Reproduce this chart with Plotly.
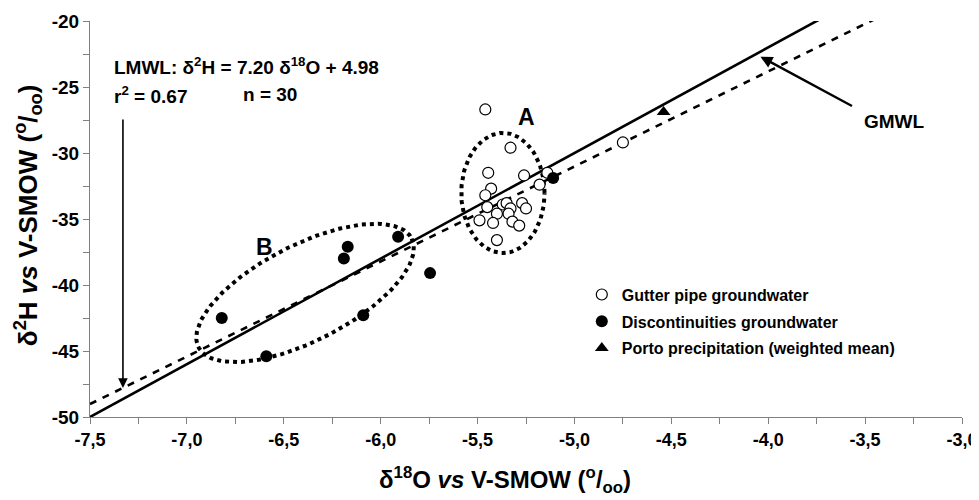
import numpy as np
import plotly.graph_objects as go

# Gutter pipe groundwater (open circles)
gutter_o18 = [-5.46, -5.33, -5.445, -5.26, -5.43, -5.46, -5.18, -5.45, -5.37, -5.35, -5.33,
              -5.27, -5.25, -5.40, -5.34, -5.49, -5.42, -5.32, -5.285, -5.40, -5.14, -4.75]
gutter_h2 = [-26.7, -29.6, -31.5, -31.7, -32.7, -33.2, -32.4, -34.1, -33.9, -33.8, -34.2,
             -33.8, -34.2, -34.6, -34.6, -35.1, -35.3, -35.2, -35.5, -36.6, -31.5, -29.2]

# Discontinuities groundwater (filled circles)
disc_o18 = [-6.82, -6.59, -6.19, -6.17, -5.91, -6.09, -5.745, -5.11]
disc_h2 = [-42.5, -45.4, -38.0, -37.1, -36.35, -42.3, -39.1, -31.9]

# Porto precipitation (weighted mean)
porto_o18 = [-4.54]
porto_h2 = [-26.9]

# meteoric water lines (end points)
gmwl_x = [-7.5, -3.0]
gmwl_y = [-50.0, -14.0]
lmwl_x = [-7.5, -3.0]
lmwl_y = [-49.02, -16.62]

# tick labels (decimal comma, plain hyphen)
x_ticks = [-7.5, -7.0, -6.5, -6.0, -5.5, -5.0, -4.5, -4.0, -3.5, -3.0]
x_labels = ["-7,5", "-7,0", "-6,5", "-6,0", "-5,5", "-5,0", "-4,5", "-4,0", "-3,5", "-3,0"]
y_ticks = [-50, -45, -40, -35, -30, -25, -20]
y_labels = ["-50", "-45", "-40", "-35", "-30", "-25", "-20"]

bold = "Liberation Sans, Arial, sans-serif"

fig = go.Figure()

fig.add_trace(go.Scatter(x=gmwl_x, y=gmwl_y, mode="lines", showlegend=False,
                         line=dict(color="black", width=2.6), hoverinfo="skip"))
fig.add_trace(go.Scatter(x=lmwl_x, y=lmwl_y, mode="lines", showlegend=False,
                         line=dict(color="black", width=2.6, dash="7px,7px"), hoverinfo="skip"))

# dotted ellipses around groups A and B
t = np.linspace(0, 2 * np.pi, 200)
ea_x = -5.369 + 0.215 * np.cos(t)
ea_y = -33.03 + 4.55 * np.sin(t)
fig.add_trace(go.Scatter(x=ea_x, y=ea_y, mode="lines", showlegend=False,
                         line=dict(color="black", width=4, dash="dot"), hoverinfo="skip"))
eb_x = -6.39 + 0.55 * np.cos(t) + 0.1125 * np.sin(t)
eb_y = -40.6 + 4.12 * np.cos(t) - 3.24 * np.sin(t)
fig.add_trace(go.Scatter(x=eb_x, y=eb_y, mode="lines", showlegend=False,
                         line=dict(color="black", width=4, dash="dot"), hoverinfo="skip"))

fig.add_trace(go.Scatter(
    x=gutter_o18, y=gutter_h2, mode="markers", name="Gutter pipe groundwater",
    legendgroup="a",
    marker=dict(symbol="circle", size=11, color="white", line=dict(color="black", width=1.2))
))
fig.add_trace(go.Scatter(
    x=disc_o18, y=disc_h2, mode="markers", name="Discontinuities groundwater",
    legendgroup="b",
    marker=dict(symbol="circle", size=12, color="black")
))
fig.add_trace(go.Scatter(
    x=porto_o18, y=porto_h2, mode="markers", name="Porto precipitation (weighted mean)",
    legendgroup="c",
    marker=dict(symbol="triangle-up", size=12, color="black")
))

annots = [
    dict(x=-7.385, y=-23.4, xanchor="left", showarrow=False,
         text="<b>LMWL: δ<sup>2</sup>H = 7.20 δ<sup>18</sup>O + 4.98</b>", font=dict(size=19)),
    dict(x=-7.385, y=-25.6, xanchor="left", showarrow=False,
         text="<b>r<sup>2</sup> = 0.67</b>", font=dict(size=19)),
    dict(x=-6.72, y=-25.6, xanchor="left", showarrow=False,
         text="<b>n = 30</b>", font=dict(size=19)),
    dict(x=-7.33, y=-47.8, ax=-7.33, ay=-27.35, axref="x", ayref="y",
         showarrow=True, arrowhead=2, arrowsize=1.2, arrowwidth=1.6, arrowcolor="black", text=""),
    dict(x=-4.04, y=-22.7, ax=-3.56, ay=-26.5, axref="x", ayref="y",
         showarrow=True, arrowhead=2, arrowsize=1, arrowwidth=2.4, arrowcolor="black", text=""),
    dict(x=-3.35, y=-27.65, showarrow=False, text="<b>GMWL</b>", font=dict(size=19)),
    dict(x=-5.247, y=-27.25, showarrow=False, text="<b>A</b>", font=dict(size=23)),
    dict(x=-6.597, y=-37.1, showarrow=False, text="<b>B</b>", font=dict(size=23)),
    # axis titles
    dict(x=0.476, y=-0.159, xref="paper", yref="paper", xanchor="center", yanchor="middle",
         showarrow=False,
         text="<b>δ<sup>18</sup>O <i>vs</i> V-SMOW (<sup>o</sup>/<sub>oo</sub>)</b>",
         font=dict(size=24)),
    dict(x=-0.071, y=0.51, xref="paper", yref="paper", xanchor="center", yanchor="middle",
         showarrow=False, textangle=-90,
         text="<b>δ<sup>2</sup>H <i>vs</i> V-SMOW (<sup>o</sup>/<sub>oo</sub>)</b>",
         font=dict(size=26)),
]

# the page body adds an 8 px offset, so the margins are shifted to compensate
fig.update_layout(
    width=979, height=500,
    margin=dict(l=82, r=25, t=13, b=91),
    plot_bgcolor="white", paper_bgcolor="white",
    font=dict(family=bold, color="black"),
    annotations=annots,
    showlegend=True,
    legend=dict(x=0.564, y=0.352, xanchor="left", yanchor="top",
                font=dict(size=16, family=bold, weight="bold"),
                tracegroupgap=3, bgcolor="rgba(0,0,0,0)"),
    xaxis=dict(
        range=[-7.5, -3.0], tickvals=x_ticks, ticktext=x_labels,
        showgrid=False, zeroline=False,
        showline=True, linecolor="#808080", linewidth=1,
        ticks="outside", ticklen=6, tickcolor="#808080",
        minor=dict(dtick=0.25, tick0=-7.5, ticks="outside", ticklen=6, tickcolor="#808080"),
        tickfont=dict(size=18, family=bold, weight="bold"),
        automargin=False,
    ),
    yaxis=dict(
        range=[-50, -20], tickvals=y_ticks, ticktext=y_labels,
        showgrid=False, zeroline=False,
        showline=True, linecolor="#808080", linewidth=1,
        ticks="outside", ticklen=6, tickcolor="#808080",
        minor=dict(dtick=2.5, tick0=-50, ticks="outside", ticklen=6, tickcolor="#808080"),
        tickfont=dict(size=19, family=bold, weight="bold"),
        automargin=False,
    ),
)

fig.write_html("out.html")
